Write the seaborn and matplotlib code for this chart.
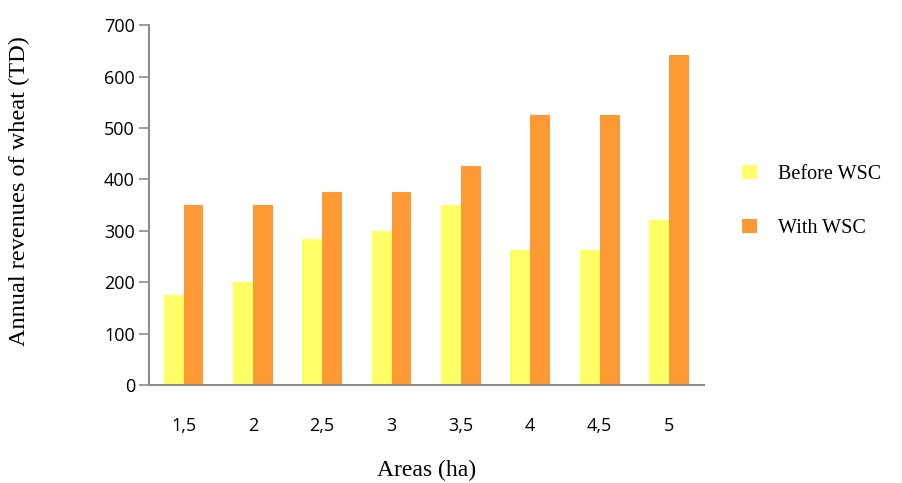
import matplotlib
matplotlib.use("Agg")
import matplotlib.pyplot as plt
import seaborn as sns
import pandas as pd
from matplotlib.patches import Patch

areas = ["1,5", "2", "2,5", "3", "3,5", "4", "4,5", "5"]
before_wsc = [175, 200, 283, 300, 350, 263, 263, 321]
with_wsc = [350, 350, 375, 375, 425, 525, 525, 641]
series_names = ["Before WSC", "With WSC"]
colors = ["#FFFF66", "#FF9933"]

df = pd.DataFrame({
    "Area": areas * 2,
    "Revenue": before_wsc + with_wsc,
    "Series": [series_names[0]] * len(areas) + [series_names[1]] * len(areas),
})

sns.set_style("white")
plt.rcParams["text.color"] = "black"
plt.rcParams["xtick.labelcolor"] = "black"
plt.rcParams["ytick.labelcolor"] = "black"

fig = plt.figure(figsize=(9.02, 4.83), dpi=100)
ax = fig.add_axes([0.165, 0.203, 0.615, 0.745])

sns.barplot(data=df, x="Area", y="Revenue", hue="Series", order=areas,
            hue_order=series_names, palette=colors, width=0.576,
            saturation=1, ax=ax, legend=False, linewidth=0)

ax.set_ylim(0, 700)
ax.set_yticks(range(0, 701, 100))
ax.set_xlim(-0.5, len(areas) - 0.5)

axis_color = "#8c8c8c"
for side in ["top", "right"]:
    ax.spines[side].set_visible(False)
for side in ["left", "bottom"]:
    ax.spines[side].set_color(axis_color)
    ax.spines[side].set_linewidth(1.5)

tick_font = "Open Sans"
ax.tick_params(axis="y", length=7, width=1.2, color=axis_color, pad=3,
               left=True, labelsize=13, labelcolor="black")
ax.tick_params(axis="x", length=0, pad=23, labelsize=13, labelcolor="black")
for lbl in ax.get_xticklabels() + ax.get_yticklabels():
    lbl.set_fontfamily(tick_font)

ax.set_xlabel("")
ax.set_ylabel("")
serif = "Liberation Serif"
fig.text(0.473, 0.027, "Areas (ha)", fontfamily=serif, fontsize=17,
         ha="center", va="center", color="black")
fig.text(0.022, 0.605, "Annual revenues of wheat (TD)", fontfamily=serif,
         fontsize=17.5, rotation=90, ha="center", va="center", color="black")

handles = [Patch(facecolor=c, edgecolor="none") for c in colors]
fig.legend(handles, series_names, loc="center left", bbox_to_anchor=(0.803, 0.583),
           frameon=False, handlelength=0.7, handleheight=0.7, handletextpad=1.05,
           labelspacing=1.75, labelcolor="black",
           prop={"family": serif, "size": 14.5})

fig.savefig("out.png", dpi=100)
